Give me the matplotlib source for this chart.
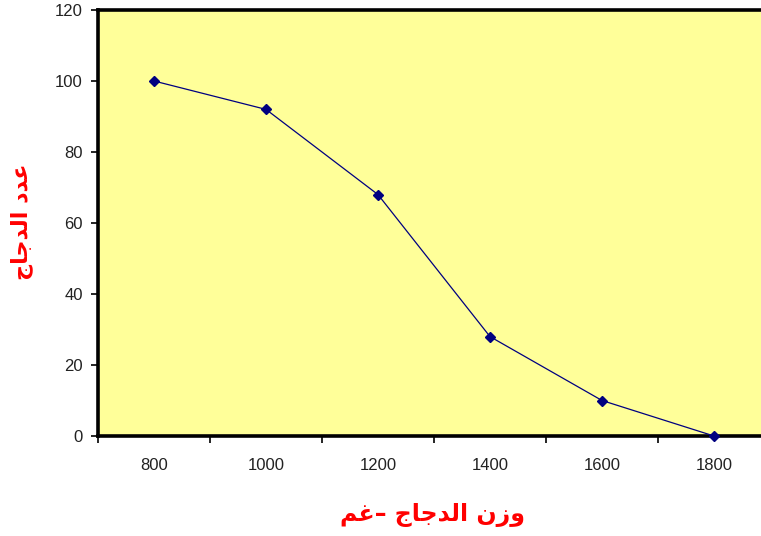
import numpy as np
import matplotlib
matplotlib.use('Agg')
import matplotlib.pyplot as plt
from matplotlib.ticker import FixedLocator, NullFormatter, FixedFormatter

weights = ['800', '1000', '1200', '1400', '1600', '1800']
counts = [100, 92, 68, 28, 10, 0]

# Arabic labels in presentation forms, already in visual (left-to-right) order,
# since matplotlib does no shaping or bidi.
ylabel_ar = '\uFE9D\uFE8E\uFE9F\uFEAA\uFEDF\uFE8D \uFEA9\uFEAA\uFECB'
xlabel_ar = '\uFEE2\uFECF\u2013 \uFE9D\uFE8E\uFE9F\uFEAA\uFEDF\uFE8D \uFEE5\uFEAF\uFEED'


def main():
    fig = plt.figure(figsize=(7.61, 5.36), dpi=100)
    ax = fig.add_axes([98 / 761, 100 / 536, 672 / 761, 426 / 536])
    ax.set_facecolor('#FFFF99')

    x = np.arange(len(weights))
    ax.plot(x, counts, '-D', color='#000080', lw=0.9, ms=5,
            mfc='#000080', mec='#000080', clip_on=False, zorder=5)

    ax.set_xlim(-0.5, len(weights) - 0.5)
    ax.set_ylim(0, 120)
    ax.set_yticks(np.arange(0, 121, 20))

    # category axis: ticks between categories, labels centred on them
    ax.xaxis.set_major_locator(FixedLocator(np.arange(-0.5, len(weights), 1.0)))
    ax.xaxis.set_major_formatter(NullFormatter())
    ax.xaxis.set_minor_locator(FixedLocator(x))
    ax.xaxis.set_minor_formatter(FixedFormatter(weights))
    ax.tick_params(axis='x', which='minor', length=0, pad=16)
    ax.tick_params(axis='both', which='major', direction='out', length=5,
                   width=1.2, color='black')

    for lbl in ax.get_xticklabels(minor=True) + ax.get_yticklabels():
        lbl.set_fontfamily('Liberation Sans')
        lbl.set_fontsize(12)
        lbl.set_color('#222222')
    ax.tick_params(axis='y', pad=6)

    for side in ('left', 'top', 'bottom', 'right'):
        ax.spines[side].set_linewidth(2.6)
        ax.spines[side].set_color('black')

    fig.text(433 / 761, 1 - 515 / 536, xlabel_ar, ha='center', va='center',
             color='red', fontsize=17, fontweight='bold', family='DejaVu Sans')
    fig.text(22 / 761, 1 - 222 / 536, ylabel_ar, ha='center', va='center',
             rotation=90, color='red', fontsize=16, fontweight='bold',
             family='DejaVu Sans')

    fig.savefig('out.png', dpi=100)
    plt.close(fig)


if __name__ == '__main__':
    main()
